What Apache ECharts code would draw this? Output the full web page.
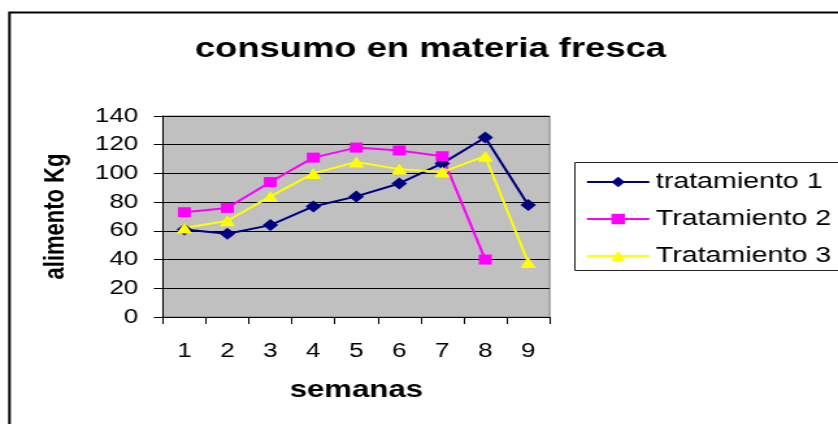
<!DOCTYPE html>
<html>
<head>
<meta charset="utf-8">
<script src="https://cdn.jsdelivr.net/npm/echarts@6.0.0/dist/echarts.min.js"></script>
<style>
  html, body { margin: 0; padding: 0; background: #fff; overflow: hidden; }
  /* the original picture is stretched sideways, so draw narrow and scale */
  #chart { width: 645px; height: 424px; transform: scaleX(1.2992); transform-origin: 0 0; }
</style>
</head>
<body>
<div id="chart"></div>
<script>
const weeks = ['1', '2', '3', '4', '5', '6', '7', '8', '9']
const tratamiento1 = [61, 58, 64, 77, 84, 93, 107, 125, 78]
const tratamiento2 = [73, 76, 94, 111, 118, 116, 112, 40, null]
const tratamiento3 = [62, 67, 84, 100, 108, 103, 101, 112, 38]
const seriesNames = ['tratamiento 1', 'Tratamiento 2', 'Tratamiento 3']

const FONT = '"Liberation Sans", Arial, sans-serif'

const chart = echarts.init(document.getElementById('chart'), null, { renderer: 'canvas' })

const option = {
  backgroundColor: '#ffffff',
  animation: false,
  title: {
    text: 'consumo en materia fresca',
    left: 150,
    top: 35.5,
    padding: 0,
    textStyle: { fontFamily: FONT, fontSize: 28, fontWeight: 'bold', color: '#000' }
  },
  graphic: [
    // outer chart frame, runs off the right and bottom edge
    {
      type: 'rect',
      shape: { x: 7.3, y: 12.5, width: 1000, height: 1000 },
      style: { fill: 'none', stroke: '#000', lineWidth: 2 },
      silent: true
    },
    // legend frame, also cut by the right edge
    {
      type: 'rect',
      shape: { x: 442.5, y: 162.5, width: 400, height: 108 },
      style: { fill: '#fff', stroke: '#222', lineWidth: 1 },
      silent: true,
      z: -1
    }
  ],
  legend: {
    orient: 'vertical',
    left: 450.8,
    top: 170,
    padding: 0,
    itemGap: 13,
    itemWidth: 48,
    itemHeight: 13,
    data: seriesNames,
    textStyle: { fontFamily: FONT, fontSize: 22, color: '#000', lineHeight: 24 }
  },
  grid: {
    left: 125.4,
    right: 221.9,
    top: 116,
    bottom: 107,
    show: true,
    backgroundColor: '#c0c0c0',
    borderColor: '#808080',
    borderWidth: 1,
    containLabel: false
  },
  xAxis: {
    type: 'category',
    data: weeks,
    boundaryGap: true,
    name: 'semanas',
    nameLocation: 'middle',
    nameGap: 61,
    nameTextStyle: { fontFamily: FONT, fontSize: 24, fontWeight: 'bold', color: '#000' },
    axisLine: { lineStyle: { color: '#000', width: 1 } },
    axisTick: { show: true, inside: false, length: 7, lineStyle: { color: '#000' } },
    axisLabel: { fontFamily: FONT, fontSize: 20, color: '#000', margin: 24 },
    splitLine: { show: false }
  },
  yAxis: {
    type: 'value',
    min: 0,
    max: 140,
    interval: 20,
    name: 'alimento Kg',
    nameLocation: 'middle',
    nameRotate: 90,
    nameGap: 71.5,
    nameTextStyle: { fontFamily: FONT, fontSize: 22, fontWeight: 'bold', color: '#000' },
    axisLine: { show: true, lineStyle: { color: '#000', width: 1 } },
    axisTick: { show: true, inside: false, length: 7, lineStyle: { color: '#000' } },
    axisLabel: { fontFamily: FONT, fontSize: 20, color: '#000', margin: 19 },
    splitLine: { show: true, lineStyle: { color: '#000', width: 1 } }
  },
  series: [
    {
      name: seriesNames[0],
      type: 'line',
      data: tratamiento1,
      symbol: 'diamond',
      symbolSize: [12, 12],
      lineStyle: { color: '#000080', width: 2 },
      itemStyle: { color: '#000080' }
    },
    {
      name: seriesNames[1],
      type: 'line',
      data: tratamiento2,
      symbol: 'rect',
      symbolSize: [10, 10],
      lineStyle: { color: '#ff00ff', width: 2 },
      itemStyle: { color: '#ff00ff' }
    },
    {
      name: seriesNames[2],
      type: 'line',
      data: tratamiento3,
      symbol: 'triangle',
      symbolSize: [12, 11],
      lineStyle: { color: '#ffff00', width: 2 },
      itemStyle: { color: '#ffff00' }
    }
  ]
}

chart.setOption(option)
</script>
</body>
</html>
